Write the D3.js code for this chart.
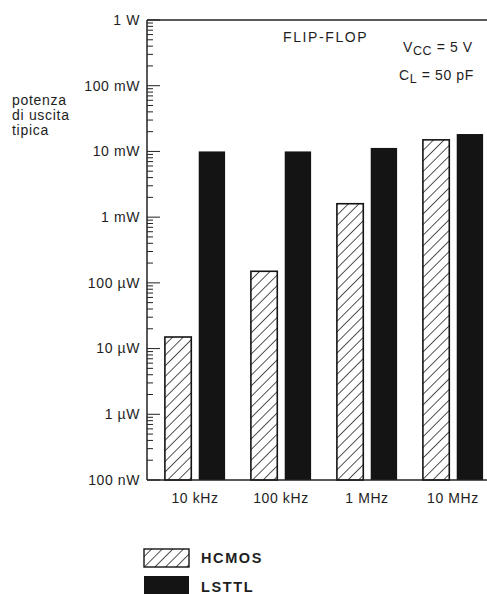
<!DOCTYPE html>
<html><head><meta charset="utf-8">
<script src="https://cdn.jsdelivr.net/npm/d3@7"></script>
<style>body{margin:0;background:#fff}svg{display:block}text{font-family:"Liberation Sans",Arial,sans-serif;fill:#1e1e1e}</style>
</head><body><svg id="c" width="487" height="594"></svg>
<script>
const categories = ["10 kHz","100 kHz","1 MHz","10 MHz"];
const seriesNames = ["HCMOS","LSTTL"];
const hcmos = [15e-6, 150e-6, 1.6e-3, 15e-3];
const lsttl = [10e-3, 10e-3, 11.3e-3, 18.4e-3];
const yTicks = [1, 0.1, 0.01, 1e-3, 1e-4, 1e-5, 1e-6, 1e-7];
const yTickLabels = ["1 W","100 mW","10 mW","1 mW","100 µW","10 µW","1 µW","100 nW"];

const svg = d3.select("#c");
const x0 = 147, yTop = 20, yBot = 480, xRight = 487;
const y = d3.scaleLog().domain([1e-7, 1]).range([yBot, yTop]);
const x = d3.scaleBand().domain(categories).range([x0 + 5, x0 + 5 + 4*86]).paddingInner(0.3).paddingOuter(0.15);
const xs = d3.scaleBand().domain(seriesNames).range([0, x.bandwidth()]).paddingInner(0.22);

const defs = svg.append("defs");
const pat = defs.append("pattern").attr("id","hatch").attr("patternUnits","userSpaceOnUse")
  .attr("width",7.5).attr("height",7.5).attr("patternTransform","rotate(45)");
pat.append("rect").attr("width",7.5).attr("height",7.5).attr("fill","#fff");
pat.append("line").attr("x1",0).attr("y1",0).attr("x2",0).attr("y2",7.5).attr("stroke","#1a1a1a").attr("stroke-width",1.5);

// bars
const data = categories.map((c,i)=>({c, vals:[{s:"HCMOS",v:hcmos[i]},{s:"LSTTL",v:lsttl[i]}]}));
const g = svg.append("g");
data.forEach(d=>{
  d.vals.forEach(b=>{
    g.append("rect")
      .attr("x", x(d.c)+xs(b.s)).attr("width", xs.bandwidth())
      .attr("y", y(b.v)).attr("height", yBot - y(b.v))
      .attr("fill", b.s==="HCMOS" ? "url(#hatch)" : "#141414")
      .attr("stroke", "#141414").attr("stroke-width", b.s==="HCMOS"?1.6:0);
  });
});

// frame lines
svg.append("line").attr("x1",x0).attr("x2",xRight).attr("y1",yTop).attr("y2",yTop).attr("stroke","#222").attr("stroke-width",1.4);
svg.append("line").attr("x1",x0).attr("x2",xRight).attr("y1",yBot).attr("y2",yBot).attr("stroke","#222").attr("stroke-width",1.4);

// y axis with major + minor ticks inside
const allTicks = y.ticks();
const axis = svg.append("g").attr("transform",`translate(${x0},0)`);
axis.append("line").attr("x1",0).attr("x2",0).attr("y1",yTop).attr("y2",yBot).attr("stroke","#222").attr("stroke-width",1.5);
allTicks.forEach(t=>{
  const major = yTicks.some(m=>Math.abs(Math.log10(m)-Math.log10(t))<1e-6);
  axis.append("line").attr("x1",0).attr("x2",major?13:6).attr("y1",y(t)).attr("y2",y(t)).attr("stroke","#222").attr("stroke-width",1);
});
yTicks.forEach((t,i)=>{
  axis.append("text").attr("x",-7).attr("y",y(t)).attr("dy","0.35em").attr("text-anchor","end")
    .attr("font-size",14).attr("letter-spacing",0.6).text(yTickLabels[i]);
});

// x labels
categories.forEach(c=>{
  svg.append("text").attr("x", x(c)+x.bandwidth()/2).attr("y",503).attr("text-anchor","middle").attr("font-size",14).attr("letter-spacing",0.6).text(c);
});

// y title
["potenza","di uscita","tipica"].forEach((t,i)=>{
  svg.append("text").attr("x",12).attr("y",105+i*15).attr("font-size",14).attr("letter-spacing",0.7).text(t);
});

// annotations
svg.append("text").attr("x",283).attr("y",42).attr("font-size",14).attr("letter-spacing",1.6).text("FLIP-FLOP");
const v = svg.append("text").attr("x",403).attr("y",52).attr("font-size",14).attr("letter-spacing",0.6);
v.append("tspan").text("V");
v.append("tspan").attr("dy",3).attr("font-size",12.5).text("CC");
v.append("tspan").attr("dy",-3).text(" = 5 V");
const cl = svg.append("text").attr("x",399).attr("y",80).attr("font-size",14).attr("letter-spacing",0.6);
cl.append("tspan").text("C");
cl.append("tspan").attr("dy",3).attr("font-size",12.5).text("L");
cl.append("tspan").attr("dy",-3).text(" = 50 pF");

// legend
const leg = svg.append("g");
seriesNames.forEach((s,i)=>{
  leg.append("rect").attr("x",144).attr("y",549+i*27).attr("width",45).attr("height",18)
    .attr("fill", s==="HCMOS"?"url(#hatch)":"#141414").attr("stroke","#141414").attr("stroke-width",s==="HCMOS"?1.4:0);
  leg.append("text").attr("x",201).attr("y",558+i*29).attr("dy","0.35em").attr("font-size",14.5).attr("font-weight","bold").attr("letter-spacing",1.6).text(s);
});
</script></body></html>
